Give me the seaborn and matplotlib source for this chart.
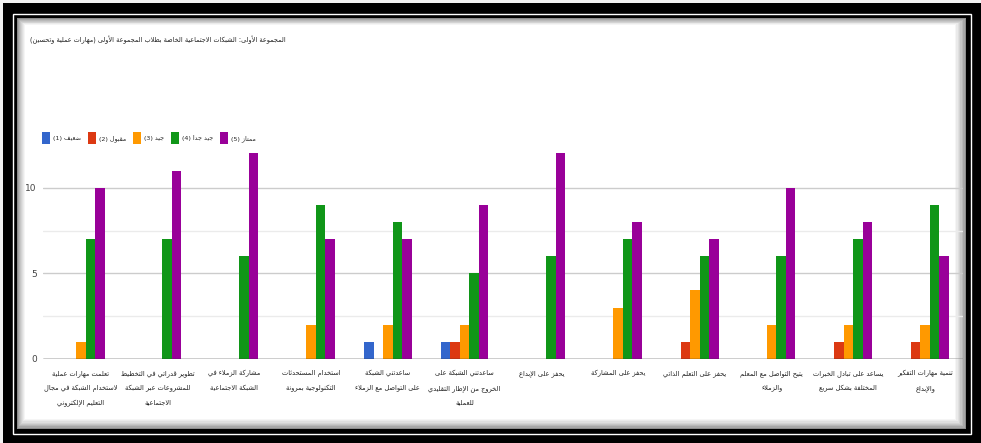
import re
import matplotlib
matplotlib.use("Agg")
import matplotlib.pyplot as plt
from matplotlib.patches import Rectangle
from matplotlib.ticker import MultipleLocator
import numpy as np
import pandas as pd
import seaborn as sns

# ---------------------------------------------------------------- data
title = "المجموعة الأولى: الشبكات الاجتماعية الخاصة بطلاب المجموعة الأولى (مهارات عملية وتحسين)"

ratings = ["ضعيف (1)", "مقبول (2)", "جيد (3)", "جيد جدا (4)", "ممتاز (5)"]
colors = ["#3366cc", "#dc3912", "#ff9900", "#109618", "#990099"]

categories = [
    ["تعلمت مهارات عملية", "لاستخدام الشبكة في مجال", "التعليم الإلكتروني"],
    ["تطوير قدراتي في التخطيط", "للمشروعات عبر الشبكة", "الاجتماعية"],
    ["مشاركة الزملاء في", "الشبكة الاجتماعية"],
    ["استخدام المستحدثات", "التكنولوجية بمرونة"],
    ["ساعدتني الشبكة", "على التواصل مع الزملاء"],
    ["ساعدتني الشبكة على", "الخروج من الإطار التقليدي", "للعملية"],
    ["يحفز على الإبداع"],
    ["يحفز على المشاركة"],
    ["يحفز على التعلم الذاتي"],
    ["يتيح التواصل مع المعلم", "والزملاء"],
    ["يساعد على تبادل الخبرات", "المختلفة بشكل سريع"],
    ["تنمية مهارات التفكير", "والإبداع"],
]

weak = [0, 0, 0, 0, 1, 1, 0, 0, 0, 0, 0, 0]
acceptable = [0, 0, 0, 0, 0, 1, 0, 0, 1, 0, 1, 1]
good = [1, 0, 0, 2, 2, 2, 0, 3, 4, 2, 2, 2]
very_good = [7, 7, 6, 9, 8, 5, 6, 7, 6, 6, 7, 9]
excellent = [10, 11, 12, 7, 7, 9, 12, 8, 7, 10, 8, 6]

# ---------------------------------------------------- arabic shaping
# contextual forms (Arabic Presentation Forms-B) + right-to-left ordering
RIGHT = {"\u0622": 0xFE81, "\u0623": 0xFE83, "\u0624": 0xFE85, "\u0625": 0xFE87,
         "\u0627": 0xFE8D, "\u0629": 0xFE93, "\u062F": 0xFEA9, "\u0630": 0xFEAB,
         "\u0631": 0xFEAD, "\u0632": 0xFEAF, "\u0648": 0xFEED, "\u0649": 0xFEEF}
DUAL = {"\u0626": 0xFE89, "\u0628": 0xFE8F, "\u062A": 0xFE95, "\u062B": 0xFE99,
        "\u062C": 0xFE9D, "\u062D": 0xFEA1, "\u062E": 0xFEA5, "\u0633": 0xFEB1,
        "\u0634": 0xFEB5, "\u0635": 0xFEB9, "\u0636": 0xFEBD, "\u0637": 0xFEC1,
        "\u0638": 0xFEC5, "\u0639": 0xFEC9, "\u063A": 0xFECD, "\u0641": 0xFED1,
        "\u0642": 0xFED5, "\u0643": 0xFED9, "\u0644": 0xFEDD, "\u0645": 0xFEE1,
        "\u0646": 0xFEE5, "\u0647": 0xFEE9, "\u064A": 0xFEF1}
LAM_ALEF = {"\u0622": 0xFEF5, "\u0623": 0xFEF7, "\u0625": 0xFEF9, "\u0627": 0xFEFB}


def is_letter(c):
    return c in DUAL or c in RIGHT or c == "\u0621"


def shape(text):
    out = []
    i, n = 0, len(text)
    while i < n:
        c = text[i]
        linked_prev = i > 0 and text[i - 1] in DUAL
        if c == "\u0644" and i + 1 < n and text[i + 1] in LAM_ALEF:
            out.append(chr(LAM_ALEF[text[i + 1]] + (1 if linked_prev else 0)))
            i += 2
            continue
        if c in DUAL:
            linked_next = i + 1 < n and is_letter(text[i + 1])
            b = DUAL[c]
            if linked_prev and linked_next:
                out.append(chr(b + 3))
            elif linked_prev:
                out.append(chr(b + 1))
            elif linked_next:
                out.append(chr(b + 2))
            else:
                out.append(chr(b))
        elif c in RIGHT:
            out.append(chr(RIGHT[c] + (1 if linked_prev else 0)))
        elif c == "\u0621":
            out.append("\uFE80")
        else:
            out.append(c)
        i += 1
    vis = "".join(out)[::-1]
    vis = vis.translate(str.maketrans("()", ")("))
    return re.sub(r"[0-9]+", lambda m: m.group(0)[::-1], vis)


def shape_lines(lines):
    return "\n".join(shape(l) for l in lines)


# ---------------------------------------------------------- dataframe
cat_labels = [shape_lines(c) for c in categories]
hue_labels = [shape(r) for r in ratings]
series = [weak, acceptable, good, very_good, excellent]
df = pd.DataFrame({
    "item": cat_labels * len(series),
    "rating": [h for h in hue_labels for _ in cat_labels],
    "count": [v for s in series for v in s],
})

# -------------------------------------------------------------- figure
sns.set_theme(style="white")
plt.rcParams["font.family"] = ["DejaVu Sans"]

W, H = 981, 443
fig = plt.figure(figsize=(W / 100, H / 100), dpi=100)
fig.patch.set_facecolor("#f2f2f2")


def px_rect(x0, y0, x1, y1, **kw):
    r = Rectangle((x0 / W, 1 - y1 / H), (x1 - x0) / W, (y1 - y0) / H,
                  transform=fig.transFigure, **kw)
    fig.add_artist(r)
    return r


# framed border
px_rect(3, 3, W, H, facecolor="black", edgecolor="none", zorder=0)
px_rect(12.5, 13.5, 971, 434, facecolor="none", edgecolor="white", lw=1.0, zorder=1)
# soft inner shadow of the white panel
steps = 9
for k in range(steps):
    g = 0.55 + 0.45 * (k / (steps - 1)) ** 0.7
    px_rect(17 + k * 1.0, 18 + k * 0.9, 966 - k * 1.4, 429 - k * 1.3,
            facecolor=(g, g, g), edgecolor="none", zorder=2 + k * 0.01)

ax = fig.add_axes([42.5 / W, 1 - 359 / H, 921 / W, 209 / H])
ax.set_facecolor("none")
ax.set_zorder(5)

sns.barplot(data=df, x="item", y="count", hue="rating", hue_order=hue_labels,
            order=cat_labels, palette=colors, saturation=1, width=0.62, gap=0,
            dodge=True, linewidth=0, errorbar=None, ax=ax)

ax.set_xlim(-0.5, len(cat_labels) - 0.5)
ax.set_ylim(0, 12.2)
ax.yaxis.set_major_locator(MultipleLocator(5))
ax.yaxis.set_minor_locator(MultipleLocator(2.5))
ax.set_axisbelow(True)
ax.yaxis.grid(True, which="major", color="#cccccc", lw=1.0)
ax.yaxis.grid(True, which="minor", color="#ebebeb", lw=1.0)
ax.axhline(0, color="#333333", lw=1.0, zorder=6)
for s in ax.spines.values():
    s.set_visible(False)
ax.tick_params(axis="y", which="both", length=0, pad=4, labelsize=6.5, labelcolor="#444444")
ax.tick_params(axis="x", length=0, pad=8, labelsize=4.8, labelcolor="#222222")
for t in ax.get_xticklabels():
    t.set_linespacing(2.5)
ax.set_xlabel("")
ax.set_ylabel("")

handles, labels = ax.get_legend_handles_labels()
ax.get_legend().remove()
fig.legend(handles, labels, loc="center left", bbox_to_anchor=(42 / W, 1 - 138 / H),
           ncol=5, frameon=False, fontsize=4.6, handlelength=1.3, handleheight=2.4,
           handletextpad=0.4, columnspacing=1.1, borderaxespad=0, borderpad=0)

fig.text(30 / W, 1 - 40 / H, shape(title), fontsize=4.7, color="#222222",
         ha="left", va="center", zorder=10)

fig.savefig("out.png", dpi=100, facecolor=fig.get_facecolor())
